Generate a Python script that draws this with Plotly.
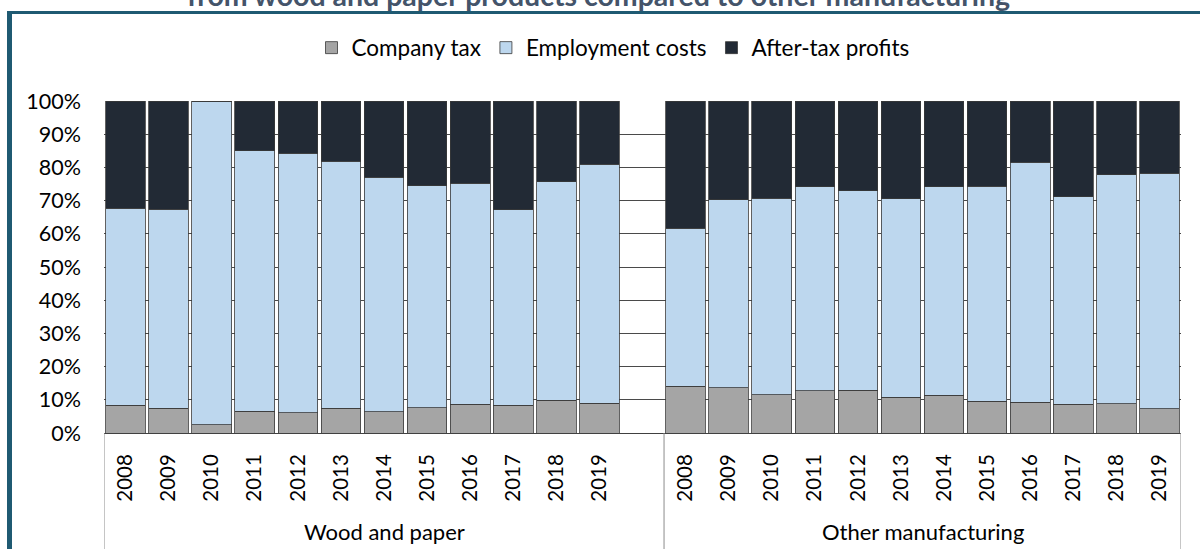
import plotly.graph_objects as go

# Shares of gross value added, percent
years = ["2008", "2009", "2010", "2011", "2012", "2013",
         "2014", "2015", "2016", "2017", "2018", "2019"]
groups = ["Wood and paper", "Other manufacturing"]

wood_company_tax = [8.4, 7.4, 2.5, 6.6, 6.1, 7.4, 6.4, 7.6, 8.7, 8.4, 9.9, 9.0]
wood_employment = [59.3, 60.0, 97.5, 78.4, 78.2, 74.4, 70.6, 66.9, 66.6, 58.9, 65.8, 72.0]
wood_profits = [32.3, 32.6, 0.0, 15.0, 15.7, 18.2, 23.0, 25.5, 24.7, 32.7, 24.3, 19.0]

other_company_tax = [14.1, 13.7, 11.5, 12.7, 12.9, 10.8, 11.4, 9.5, 9.2, 8.6, 8.8, 7.3]
other_employment = [47.6, 56.5, 59.2, 61.5, 60.0, 59.7, 62.7, 64.8, 72.3, 62.6, 69.0, 70.9]
other_profits = [38.3, 29.8, 29.3, 25.8, 27.1, 29.5, 25.9, 25.7, 18.5, 28.8, 22.2, 21.8]

series_names = ["Company tax", "Employment costs", "After-tax profits"]
series_colors = ["#A5A5A5", "#BDD7EE", "#222A35"]

FONT = "Lato"

# x slots: 12 years, one empty slot, 12 years
n = len(years)
x_wood = list(range(n))
x_other = [n + 1 + i for i in range(n)]
x_all = x_wood + x_other

series_values = [
    wood_company_tax + other_company_tax,
    wood_employment + other_employment,
    wood_profits + other_profits,
]

fig = go.Figure()
for name, color, vals in zip(series_names, series_colors, series_values):
    fig.add_trace(go.Bar(
        x=x_all, y=vals, name=name,
        marker=dict(color=color, line=dict(color="#3a3a3a", width=0.8)),
    ))

# pixel geometry of the plotting area
W_FIG, H_FIG = 1200, 549
L, R, T, B = 104, 1181, 101, 433


def px_x(p):
    return (p - L) / (R - L)


def px_y(p):
    return (B - p) / (B - T)


frame = "#1F5A72"
shapes = [
    dict(type="line", xref="paper", yref="paper",
         x0=px_x(9.5), x1=px_x(9.5), y0=px_y(11), y1=px_y(570),
         line=dict(color=frame, width=5)),
    dict(type="line", xref="paper", yref="paper",
         x0=px_x(7), x1=px_x(1210), y0=px_y(12.5), y1=px_y(12.5),
         line=dict(color=frame, width=3)),
]
# group dividers below the axis
for xv in [-0.5, n + 0.5, 2 * n + 0.5]:
    shapes.append(dict(type="line", xref="x", yref="paper",
                       x0=xv, x1=xv, y0=0, y1=px_y(570),
                       line=dict(color="#8c8c8c", width=1)))

annotations = [
    dict(text="<b>from wood and paper products compared to other manufacturing</b>",
         xref="paper", yref="paper", x=px_x(598), y=px_y(-5),
         xanchor="center", yanchor="middle", showarrow=False,
         font=dict(family=FONT, size=28.5, color="#44546A")),
    dict(text=groups[0], xref="x", yref="paper", x=(-0.5 + n + 0.5) / 2,
         y=px_y(531), xanchor="center", yanchor="middle", showarrow=False,
         font=dict(family=FONT, size=22, color="#000000")),
    dict(text=groups[1], xref="x", yref="paper", x=(n + 0.5 + 2 * n + 0.5) / 2,
         y=px_y(531), xanchor="center", yanchor="middle", showarrow=False,
         font=dict(family=FONT, size=22, color="#000000")),
]

fig.update_layout(
    width=W_FIG, height=H_FIG,
    margin=dict(l=L, r=W_FIG - R, t=T, b=H_FIG - B, pad=0),
    barmode="stack", bargap=0.08,
    paper_bgcolor="white", plot_bgcolor="white",
    font=dict(family=FONT, size=20, color="#000000"),
    legend=dict(orientation="h", x=px_x(613), xanchor="center",
                y=px_y(48), yanchor="middle",
                font=dict(family=FONT, size=22.5, color="#000000"),
                traceorder="normal"),
    shapes=shapes, annotations=annotations,
)
fig.update_xaxes(
    range=[-0.5, 2 * n + 0.5], tickmode="array",
    tickvals=x_all, ticktext=years + years, tickangle=-90,
    ticklabelstandoff=12, showgrid=False, zeroline=False,
    showline=True, linecolor="#404040", linewidth=1,
    tickfont=dict(family=FONT, size=20.5, color="#000000"),
)
fig.update_yaxes(
    range=[0, 100], dtick=10, ticksuffix="%",
    showgrid=True, gridcolor="#4a4a4a", gridwidth=1,
    zeroline=False, showline=False, ticklabelstandoff=22,
    tickfont=dict(family=FONT, size=21.5, color="#000000"),
)

fig.write_html("out.html")
